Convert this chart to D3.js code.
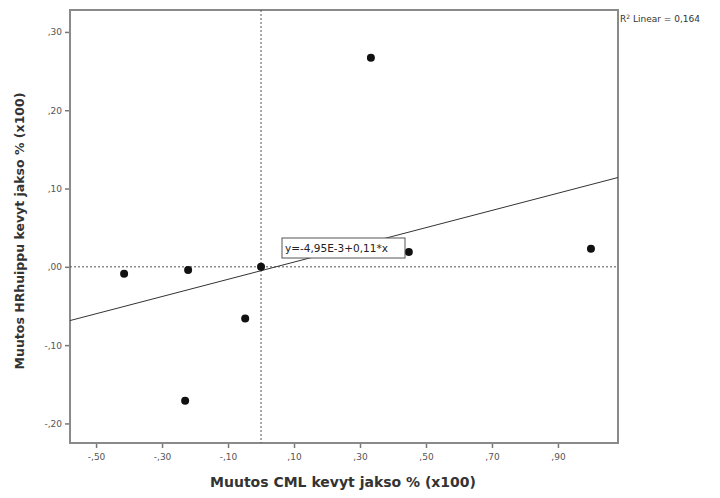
<!DOCTYPE html>
<html>
<head>
<meta charset="utf-8">
<script src="https://cdn.jsdelivr.net/npm/d3@7"></script>
<style>
  body { margin: 0; background: #fff; }
  text { font-family: "DejaVu Sans", Verdana, sans-serif; }
</style>
</head>
<body>
<div id="chart"></div>
<script>
// data
const cmlChange = [-0.415, -0.221, -0.23, -0.048, 0.0, 0.333, 0.448, 1.0];
const hrChange = [-0.009, -0.004, -0.171, -0.066, 0.0, 0.267, 0.019, 0.023];
const xTicks = [-0.5, -0.3, -0.1, 0.1, 0.3, 0.5, 0.7, 0.9];
const yTicks = [-0.2, -0.1, 0.0, 0.1, 0.2, 0.3];
const fit = { a: -0.00495, b: 0.11 };

const W = 720, H = 498;
const plotL = 70, plotR = 618, plotT = 10, plotB = 443;

const svg = d3.select('#chart')
  .append('svg')
  .attr('width', W)
  .attr('height', H);

const x = d3.scaleLinear().domain([-0.579, 1.082]).range([plotL, plotR]);
const y = d3.scaleLinear().domain([-0.225, 0.328]).range([plotB, plotT]);

const fmt = v => {
  const s = d3.format('.2f')(Math.abs(v)).replace(/^0/, '').replace('.', ',');
  return (v < -1e-9 ? '-' : '') + s;
};

// axes
const xAxis = svg.append('g')
  .attr('transform', `translate(0,${plotB})`)
  .call(d3.axisBottom(x).tickValues(xTicks).tickSize(5).tickSizeOuter(0).tickFormat(fmt));
const yAxis = svg.append('g')
  .attr('transform', `translate(${plotL},0)`)
  .call(d3.axisLeft(y).tickValues(yTicks).tickSize(5).tickSizeOuter(0).tickFormat(fmt));

[xAxis, yAxis].forEach(g => {
  g.select('.domain').remove();
  g.selectAll('.tick line').attr('stroke', '#777').attr('stroke-width', 1.5);
  g.selectAll('.tick text').attr('fill', '#555').style('font-size', '9px');
});
xAxis.selectAll('.tick text').attr('dy', '0.95em');

// frame
svg.append('rect')
  .attr('x', plotL).attr('y', plotT)
  .attr('width', plotR - plotL).attr('height', plotB - plotT)
  .attr('fill', 'none')
  .attr('stroke', '#8a8a8a')
  .attr('stroke-width', 2);

// reference lines at zero
svg.append('line')
  .attr('x1', x(0)).attr('x2', x(0))
  .attr('y1', plotT).attr('y2', plotB)
  .attr('stroke', '#555').attr('stroke-width', 1)
  .attr('stroke-dasharray', '2,2');
svg.append('line')
  .attr('x1', plotL).attr('x2', plotR)
  .attr('y1', y(0)).attr('y2', y(0))
  .attr('stroke', '#555').attr('stroke-width', 1)
  .attr('stroke-dasharray', '2,2');

// fit line
const [x0, x1] = x.domain();
svg.append('line')
  .attr('x1', x(x0)).attr('y1', y(fit.a + fit.b * x0))
  .attr('x2', x(x1)).attr('y2', y(fit.a + fit.b * x1))
  .attr('stroke', '#333').attr('stroke-width', 1);

// points
svg.selectAll('circle.pt')
  .data(cmlChange.map((v, i) => ({ x: v, y: hrChange[i] })))
  .enter()
  .append('circle')
  .attr('class', 'pt')
  .attr('cx', d => x(d.x))
  .attr('cy', d => y(d.y))
  .attr('r', 4)
  .attr('fill', '#111');

// equation label
const eq = svg.append('g').attr('transform', 'translate(282,238)');
eq.append('rect')
  .attr('width', 123).attr('height', 20)
  .attr('fill', '#fff').attr('stroke', '#555').attr('stroke-width', 1);
eq.append('text')
  .attr('x', 3).attr('y', 14)
  .attr('fill', '#222')
  .style('font-size', '10.5px')
  .text('y=-4,95E-3+0,11*x');

// R² label
const r2 = svg.append('text')
  .attr('x', 620).attr('y', 22)
  .attr('fill', '#333')
  .style('font-size', '9px');
r2.append('tspan').text('R');
r2.append('tspan').attr('dy', -3).style('font-size', '6px').text('2');
r2.append('tspan').attr('dy', 3).text(' Linear = 0,164');

// axis titles
svg.append('text')
  .attr('x', 343).attr('y', 487)
  .attr('text-anchor', 'middle')
  .attr('fill', '#333')
  .style('font-size', '14px').style('font-weight', 'bold')
  .text('Muutos CML kevyt jakso % (x100)');
svg.append('text')
  .attr('transform', `translate(24,231) rotate(-90)`)
  .attr('text-anchor', 'middle')
  .attr('fill', '#333')
  .style('font-size', '12.5px').style('font-weight', 'bold')
  .text('Muutos HRhuippu kevyt jakso % (x100)');
</script>
</body>
</html>
